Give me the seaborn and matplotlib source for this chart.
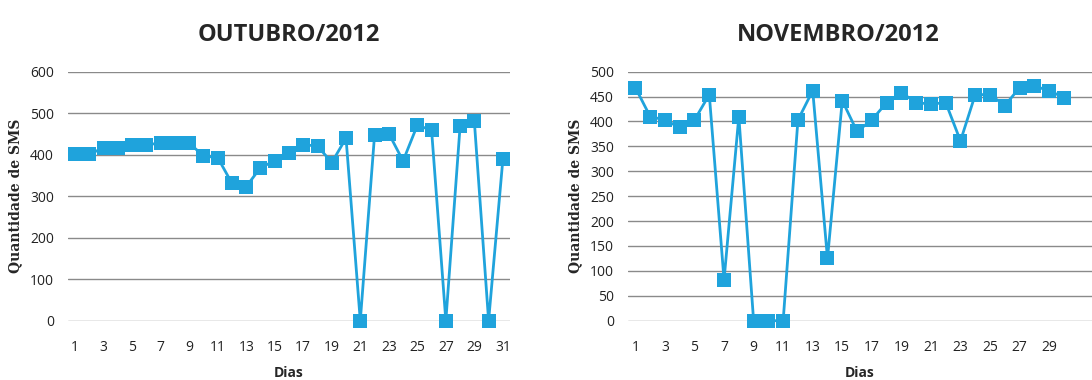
import matplotlib
matplotlib.use("Agg")
import matplotlib.pyplot as plt
import seaborn as sns
import pandas as pd

# dias e quantidade de SMS por dia
dias_out = list(range(1, 32))
sms_out = [401, 401, 417, 417, 424, 424, 428, 428, 428, 397, 393, 331, 323, 369, 385, 405,
           424, 421, 381, 440, 0, 447, 451, 385, 471, 459, 0, 469, 480, 0, 389]

dias_nov = list(range(1, 31))
sms_nov = [468, 410, 403, 388, 403, 454, 82, 410, 0, 0, 0, 403, 462, 125, 442, 380,
           403, 438, 458, 438, 435, 438, 361, 454, 454, 432, 468, 471, 462, 448]

titulos = ["OUTUBRO/2012", "NOVEMBRO/2012"]
cor = "#1FA3DC"

sns.set_style("white")
plt.rcParams["font.family"] = ["Open Sans", "DejaVu Sans"]

fig = plt.figure(figsize=(10.92, 3.8), dpi=100)
ax1 = fig.add_axes([68 / 1092, 1 - 320.7 / 380, (510 - 68) / 1092, 249 / 380])
ax2 = fig.add_axes([628 / 1092, 1 - 320.7 / 380, (1092 - 628) / 1092, 249 / 380])

dados = [(dias_out, sms_out, 600, 100, ax1, 31.5, list(range(1, 32, 2))),
         (dias_nov, sms_nov, 500, 50, ax2, 31.9, list(range(1, 30, 2)))]

for i, (dias, sms, ymax, passo, ax, xmax, xt) in enumerate(dados):
    d = pd.DataFrame({"Dias": dias, "SMS": sms})
    sns.lineplot(data=d, x="Dias", y="SMS", ax=ax, color=cor, linewidth=2,
                 marker="s", markersize=9.5, markeredgewidth=0, clip_on=False, zorder=3)
    ax.set_xlim(0.5, xmax)
    ax.set_ylim(0, ymax)
    ax.set_yticks(range(0, ymax + 1, passo))
    ax.set_xticks(xt)
    ax.grid(axis="y", color="#8a8a8a", linewidth=1)
    ax.grid(axis="x", visible=False)
    for s in ax.spines.values():
        s.set_visible(False)
    ax.tick_params(axis="both", length=0, labelsize=10, colors="#222222")
    ax.tick_params(axis="y", pad=10)
    ax.tick_params(axis="x", pad=14)
    ax.set_xlabel("Dias", fontsize=10, fontweight="bold", labelpad=8)
    ax.set_ylabel("Quantidade de SMS", fontsize=10, fontweight="bold",
                  family=["DejaVu Serif"], labelpad=6)
    ax.set_title(titulos[i], fontsize=17, fontweight="bold", pad=22)

ax2.set_title(titulos[1], fontsize=17, fontweight="bold", pad=22, x=(838 - 628) / (1092 - 628))

fig.savefig("out.png", dpi=100)
